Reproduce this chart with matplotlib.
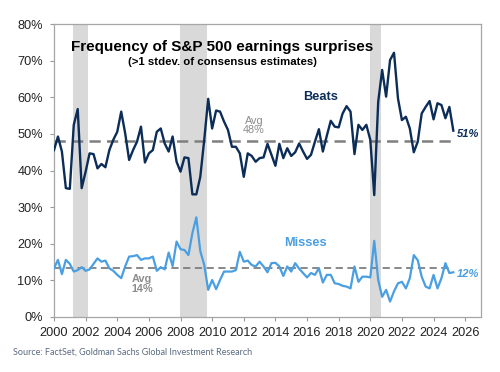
import numpy as np
import matplotlib
matplotlib.use("Agg")
import matplotlib.pyplot as plt

plt.rcParams['font.family'] = ['Liberation Sans', 'DejaVu Sans']

start_year = 2000.0
beats = [45.6, 49.3, 45.2, 35.2, 35.0, 52.5, 56.8, 35.2, 39.7, 44.7,
         44.5, 40.6, 41.8, 40.9, 45.6, 48.4, 50.6, 56.1, 50.2, 42.9,
         45.6, 47.9, 52.0, 42.2, 44.7, 45.6, 50.6, 51.5, 47.4, 45.2,
         49.3, 42.4, 39.7, 43.6, 43.4, 33.5, 33.5, 38.3, 48.4, 59.6,
         51.5, 56.4, 56.1, 53.4, 51.1, 46.5, 46.5, 44.7, 38.3, 44.7,
         44.0, 42.4, 43.4, 43.6, 47.3, 44.3, 41.3, 47.3, 43.4, 46.1,
         44.0, 45.0, 47.4, 45.2, 43.2, 44.3, 47.9, 51.3, 45.2, 49.5,
         53.6, 52.0, 51.8, 55.6, 57.6, 56.1, 44.5, 52.5, 51.1, 52.5,
         48.4, 33.3, 58.8, 67.5, 60.2, 70.2, 72.2, 59.7, 53.8, 54.7,
         51.5, 45.0, 47.9, 55.6, 57.4, 59.0, 54.0, 58.4, 57.9, 54.3,
         57.4, 50.9]
misses = [13.3, 15.6, 11.7, 15.6, 14.5, 12.4, 12.8, 13.6, 12.6, 13.0,
          14.5, 16.0, 15.1, 15.4, 13.3, 12.6, 11.5, 10.6, 13.8, 16.5,
          16.6, 16.9, 15.6, 16.0, 16.0, 16.5, 12.6, 13.6, 13.0, 17.6,
          13.9, 20.6, 18.5, 18.3, 16.9, 22.9, 27.2, 18.0, 14.2, 7.4,
          10.1, 7.6, 10.1, 12.4, 12.4, 12.4, 12.8, 17.8, 15.1, 15.4,
          14.2, 13.8, 15.1, 13.8, 12.2, 14.7, 14.8, 13.8, 11.2, 13.8,
          12.4, 14.7, 13.2, 12.0, 10.8, 12.0, 11.5, 13.3, 9.4, 11.5,
          11.5, 9.2, 9.0, 8.5, 8.3, 7.8, 13.8, 9.6, 11.0, 11.0,
          10.8, 20.8, 10.1, 5.5, 7.4, 4.2, 7.0, 9.2, 9.6, 7.8,
          10.6, 16.9, 15.5, 11.0, 8.3, 7.8, 11.5, 7.8, 10.6, 14.7,
          12.0, 12.2]
beats_avg = 48.0
misses_avg = 13.4
recessions = [(2001.2, 2002.15), (2007.97, 2009.66), (2020.0, 2020.68)]
x_ticks = list(range(2000, 2027, 2))
y_ticks = [0, 10, 20, 30, 40, 50, 60, 70, 80]

t = start_year + 0.25 * np.arange(len(beats))

navy = '#0c2d57'
light = '#4a9fe2'
gray = '#8c8c8c'

fig = plt.figure(figsize=(5.0, 3.72), dpi=100)
ax = fig.add_axes([0.108, 0.148, 0.854, 0.787])

for a, b in recessions:
    ax.axvspan(a, b, color='#d9d9d9', lw=0, zorder=0)

ax.plot([t[0], t[-1] - 0.1], [beats_avg, beats_avg], color='#7f7f7f', lw=1.8,
        dashes=(4.5, 2.5), zorder=2)
ax.plot([t[0], t[-1] - 0.1], [misses_avg, misses_avg], color='#7f7f7f', lw=1.3,
        dashes=(4, 2.5), zorder=2)

ax.plot(t, beats, color=navy, lw=1.7, solid_joinstyle='round', zorder=3)
ax.plot(t, misses, color=light, lw=1.6, solid_joinstyle='round', zorder=3)

ax.set_xlim(2000, 2027)
ax.set_ylim(0, 80)
ax.set_xticks(x_ticks)
ax.set_xticklabels([str(v) for v in x_ticks])
ax.set_yticks(y_ticks)
ax.set_yticklabels([f'{v}%' for v in y_ticks])
ax.tick_params(axis='both', labelsize=9.2, colors='#222222', length=3,
               width=0.8, color='#999999')
ax.tick_params(axis='x', pad=4)
ax.tick_params(axis='y', pad=5)
for s in ax.spines.values():
    s.set_color('#a6a6a6')
    s.set_linewidth(0.9)

ax.text(2010.6, 73.9, 'Frequency of S&P 500 earnings surprises', ha='center', va='center',
        fontsize=11.0, fontweight='bold', color='black')
ax.text(2010.65, 69.6, '(>1 stdev. of consensus estimates)', ha='center', va='center',
        fontsize=8.2, fontweight='bold', color='black')

ax.text(2016.85, 60.0, 'Beats', ha='center', va='center', fontsize=9.2,
        fontweight='bold', color=navy)
ax.text(2015.9, 20.3, 'Misses', ha='center', va='center', fontsize=9.2,
        fontweight='bold', color=light)
ax.text(2012.65, 52.3, 'Avg\n48%', ha='center', va='center', fontsize=7.8,
        color=gray, linespacing=0.95)
ax.text(2005.55, 9.0, 'Avg\n14%', ha='center', va='center', fontsize=7.8,
        fontweight='bold', color=gray, linespacing=0.95)
ax.text(2025.45, 50.0, '51%', ha='left', va='center', fontsize=8.0,
        fontweight='bold', style='italic', color=navy)
ax.text(2025.45, 11.7, '12%', ha='left', va='center', fontsize=8.0,
        fontweight='bold', style='italic', color=light)

fig.text(0.026, 0.052, 'Source: FactSet, Goldman Sachs Global Investment Research',
         ha='left', va='center', fontsize=6.5, color='#5b6b80',
         family=['Lato', 'DejaVu Sans'])

fig.savefig('out.png', dpi=100)
